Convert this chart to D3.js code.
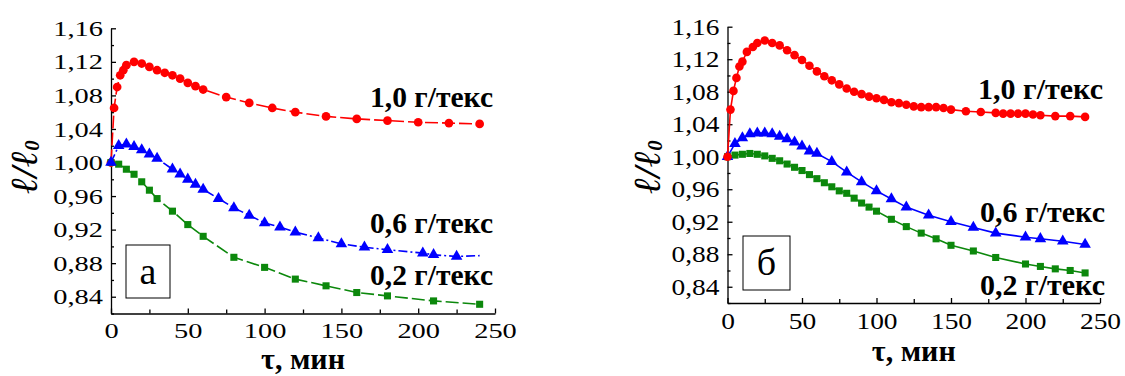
<!DOCTYPE html>
<html>
<head>
<meta charset="utf-8">
<script src="https://cdn.jsdelivr.net/npm/d3@7"></script>
<style>
  body { margin: 0; background: #fff; }
  svg { display: block; }
</style>
</head>
<body>
<script>
// panel "а" - dashed lines
var aRedT = [0, 2, 4, 6, 8, 10, 15, 20, 25, 30, 35, 40, 45, 50, 55, 60, 75, 90, 105, 120, 140, 160, 180, 200, 220, 240];
var aRedL = [1.000, 1.065, 1.090, 1.104, 1.110, 1.116, 1.120, 1.118, 1.114, 1.110, 1.107, 1.104, 1.100, 1.095, 1.091, 1.087, 1.078, 1.071, 1.065, 1.060, 1.055, 1.052, 1.050, 1.048, 1.047, 1.046];
var aBlueT = [0, 5, 10, 15, 20, 25, 30, 40, 45, 50, 55, 60, 70, 80, 90, 100, 110, 120, 135, 150, 165, 180, 203, 210, 225];
var aBlueL = [1.000, 1.020, 1.022, 1.019, 1.015, 1.010, 1.005, 0.992, 0.986, 0.980, 0.974, 0.968, 0.957, 0.946, 0.937, 0.928, 0.923, 0.917, 0.910, 0.903, 0.899, 0.896, 0.892, 0.890, 0.888];
// blue line goes on a bit past the last marker
var aBlueEndT = [240];
var aBlueEndL = [0.889];
var aGreenT = [0, 5, 10, 15, 20, 25, 30, 40, 50, 60, 80, 100, 120, 140, 160, 180, 210, 240];
var aGreenL = [1.000, 0.998, 0.992, 0.986, 0.977, 0.967, 0.957, 0.942, 0.926, 0.912, 0.887, 0.875, 0.861, 0.853, 0.845, 0.841, 0.835, 0.831];

// panel "б" - solid lines
var bRedT = [0, 2, 4, 6, 8, 10, 13, 17, 20, 25, 30, 35, 40, 45, 50, 55, 60, 65, 70, 75, 80, 85, 90, 95, 100, 105, 110, 115, 120, 125, 130, 135, 140, 145, 150, 160, 170, 180, 185, 190, 195, 200, 205, 210, 220, 230, 240];
var bRedL = [1.000, 1.058, 1.081, 1.097, 1.111, 1.117, 1.129, 1.135, 1.140, 1.143, 1.140, 1.137, 1.131, 1.125, 1.119, 1.112, 1.105, 1.099, 1.094, 1.089, 1.084, 1.080, 1.077, 1.074, 1.072, 1.070, 1.067, 1.066, 1.064, 1.062, 1.061, 1.061, 1.061, 1.060, 1.058, 1.056, 1.055, 1.054, 1.053, 1.053, 1.053, 1.053, 1.052, 1.051, 1.050, 1.050, 1.049];
var bBlueT = [0, 5, 10, 15, 20, 25, 30, 35, 40, 45, 50, 55, 60, 70, 80, 90, 100, 110, 120, 135, 150, 165, 180, 200, 210, 225, 240];
var bBlueL = [1.000, 1.016, 1.023, 1.028, 1.029, 1.029, 1.028, 1.025, 1.022, 1.018, 1.013, 1.007, 1.004, 0.994, 0.981, 0.969, 0.958, 0.948, 0.938, 0.928, 0.920, 0.913, 0.906, 0.901, 0.899, 0.896, 0.892];
var bGreenT = [0, 5, 10, 15, 20, 25, 30, 35, 40, 45, 50, 55, 60, 65, 70, 75, 80, 85, 90, 95, 100, 110, 120, 130, 140, 150, 165, 180, 200, 210, 220, 230, 240];
var bGreenL = [1.000, 1.002, 1.003, 1.004, 1.003, 1.001, 0.998, 0.995, 0.991, 0.987, 0.983, 0.978, 0.973, 0.968, 0.963, 0.958, 0.955, 0.949, 0.943, 0.938, 0.933, 0.923, 0.914, 0.906, 0.899, 0.891, 0.884, 0.876, 0.868, 0.865, 0.862, 0.860, 0.857];

var yTicks = [0.84, 0.88, 0.92, 0.96, 1.00, 1.04, 1.08, 1.12, 1.16];
var yMinor = [0.82, 0.86, 0.90, 0.94, 0.98, 1.02, 1.06, 1.10, 1.14];
var xTicks = [0, 50, 100, 150, 200, 250];
var xMinor = [25, 75, 125, 175, 225];
var seriesNames = ["1,0 г/текс", "0,6 г/текс", "0,2 г/текс"];

var RED = "#ff0000", BLUE = "#0000ff", GREEN = "#0c880c";
var SERIF = "Liberation Serif, Times New Roman, serif";

var svg = d3.select("body").append("svg")
    .attr("width", 1125)
    .attr("height", 376);

svg.append("rect").attr("width", 1125).attr("height", 376).attr("fill", "#fff");

function zip(t, l) {
    return t.map(function(d, i) { return { t: d, l: l[i] }; });
}

var fmt = function(d) { return d.toFixed(2).replace(".", ","); };

// the digits in the picture are drawn wide, so every tick label gets
// a fixed width: a digit counts 1, the comma half
function labelWidth(str, digitW) {
    var n = 0;
    for (var i = 0; i < str.length; i++) n += (str[i] === ",") ? 0.5 : 1;
    return n * digitW;
}

function styleTicks(sel, p) {
    sel.attr("font-family", SERIF)
        .attr("font-size", p.tickFont)
        .attr("fill", "#000")
        .attr("lengthAdjust", "spacingAndGlyphs")
        .attr("textLength", function() { return labelWidth(this.textContent, p.digitW); });
}

function drawPanel(p) {
    var x = d3.scaleLinear().domain([0, 250]).range([p.x0, p.x1]);
    var y = d3.scaleLinear().domain([0.82, 1.16]).range([p.y0, p.y1]);
    var g = svg.append("g");

    // y axis
    var ya = g.append("g")
        .attr("transform", "translate(" + p.x0 + ",0)")
        .call(d3.axisLeft(y).tickValues(yTicks).tickFormat(fmt).tickSize(-5).tickSizeOuter(0).tickPadding(p.pad));
    styleTicks(ya.selectAll("text"), p);
    g.append("g")
        .attr("transform", "translate(" + p.x0 + ",0)")
        .call(d3.axisLeft(y).tickValues(yMinor).tickFormat("").tickSize(-3).tickSizeOuter(0))
        .select(".domain").remove();

    // x axis
    var xa = g.append("g")
        .attr("transform", "translate(0," + p.y0 + ")")
        .call(d3.axisBottom(x).tickValues(xTicks).tickSize(-5).tickSizeOuter(0).tickPadding(p.xPad));
    styleTicks(xa.selectAll("text"), p);
    g.append("g")
        .attr("transform", "translate(0," + p.y0 + ")")
        .call(d3.axisBottom(x).tickValues(xMinor).tickFormat("").tickSize(-4).tickSizeOuter(0))
        .select(".domain").remove();

    g.selectAll(".domain, .tick line").attr("stroke", "#000").attr("stroke-width", 1.3);

    // axis titles
    g.append("text")
        .attr("x", (p.x0 + p.x1) / 2)
        .attr("y", p.xTitleY)
        .attr("text-anchor", "middle")
        .attr("font-family", SERIF)
        .attr("font-weight", "bold")
        .attr("font-size", 30)
        .text("τ, мин");

    var yt = g.append("text")
        .attr("transform", "translate(" + p.yTitleX + "," + p.yTitleY + ") rotate(-90)")
        .attr("text-anchor", "middle")
        .attr("font-family", SERIF)
        .attr("font-weight", "bold")
        .attr("font-style", "italic")
        .attr("font-size", 38);
    yt.append("tspan").text("ℓ/ℓ");
    yt.append("tspan").attr("font-size", 21).attr("dy", 2).text("0");

    // panel letter box
    g.append("rect")
        .attr("x", p.box[0]).attr("y", p.box[1])
        .attr("width", p.box[2]).attr("height", p.box[3])
        .attr("fill", "#fff").attr("stroke", "#000").attr("stroke-width", 1);
    g.append("text")
        .attr("x", p.box[0] + p.box[2] / 2)
        .attr("y", p.box[1] + p.box[3] / 2 + 12)
        .attr("text-anchor", "middle")
        .attr("font-family", SERIF)
        .attr("font-size", 38)
        .text(p.letter);

    var line = d3.line()
        .x(function(d) { return x(d.t); })
        .y(function(d) { return y(d.l); });

    p.series.forEach(function(s) {
        g.append("path")
            .datum(s.lineData)
            .attr("d", line)
            .attr("fill", "none")
            .attr("stroke", s.color)
            .attr("stroke-width", 1.6)
            .attr("stroke-dasharray", s.dash || null);
        g.selectAll(null)
            .data(s.data)
            .enter().append("path")
            .attr("transform", function(d) { return "translate(" + x(d.t) + "," + y(d.l) + ")"; })
            .attr("d", d3.symbol().type(s.symbol).size(s.size))
            .attr("fill", s.color);
    });

    // series labels
    p.labels.forEach(function(lb, i) {
        g.append("text")
            .attr("x", lb[0])
            .attr("y", lb[1])
            .attr("font-family", SERIF)
            .attr("font-weight", "bold")
            .attr("font-size", 29)
            .attr("textLength", p.labelWidth)
            .attr("lengthAdjust", "spacingAndGlyphs")
            .text(seriesNames[i]);
    });
}

var aRed = zip(aRedT, aRedL), aBlue = zip(aBlueT, aBlueL), aGreen = zip(aGreenT, aGreenL);
var bRed = zip(bRedT, bRedL), bBlue = zip(bBlueT, bBlueL), bGreen = zip(bGreenT, bGreenL);

drawPanel({
    x0: 111, x1: 495, y0: 313.5, y1: 28.3,
    tickFont: 22, digitW: 14.2, pad: 8, xPad: 9,
    xTitleY: 369, yTitleX: 37, yTitleY: 167,
    box: [126, 245, 44, 53], letter: "а",
    labels: [[370, 107], [370, 233], [370, 285]], labelWidth: 123,
    series: [
        { data: aRed, lineData: aRed, color: RED, symbol: d3.symbolCircle, size: 60, dash: "13,4" },
        { data: aGreen, lineData: aGreen, color: GREEN, symbol: d3.symbolSquare, size: 50, dash: "13,4" },
        { data: aBlue, lineData: aBlue.concat(zip(aBlueEndT, aBlueEndL)), color: BLUE, symbol: d3.symbolTriangle, size: 58, dash: "9,3,2,3" }
    ]
});

drawPanel({
    x0: 727.5, x1: 1100, y0: 303, y1: 26.7,
    tickFont: 24, digitW: 13.7, pad: 8, xPad: 9,
    xTitleY: 361, yTitleX: 660, yTitleY: 167,
    box: [743, 236, 47, 54], letter: "б",
    labels: [[978, 99], [980, 222], [980, 295]], labelWidth: 125,
    series: [
        { data: bGreen, lineData: bGreen, color: GREEN, symbol: d3.symbolSquare, size: 50 },
        { data: bBlue, lineData: bBlue, color: BLUE, symbol: d3.symbolTriangle, size: 58 },
        { data: bRed, lineData: bRed, color: RED, symbol: d3.symbolCircle, size: 58 }
    ]
});
</script>
</body>
</html>
